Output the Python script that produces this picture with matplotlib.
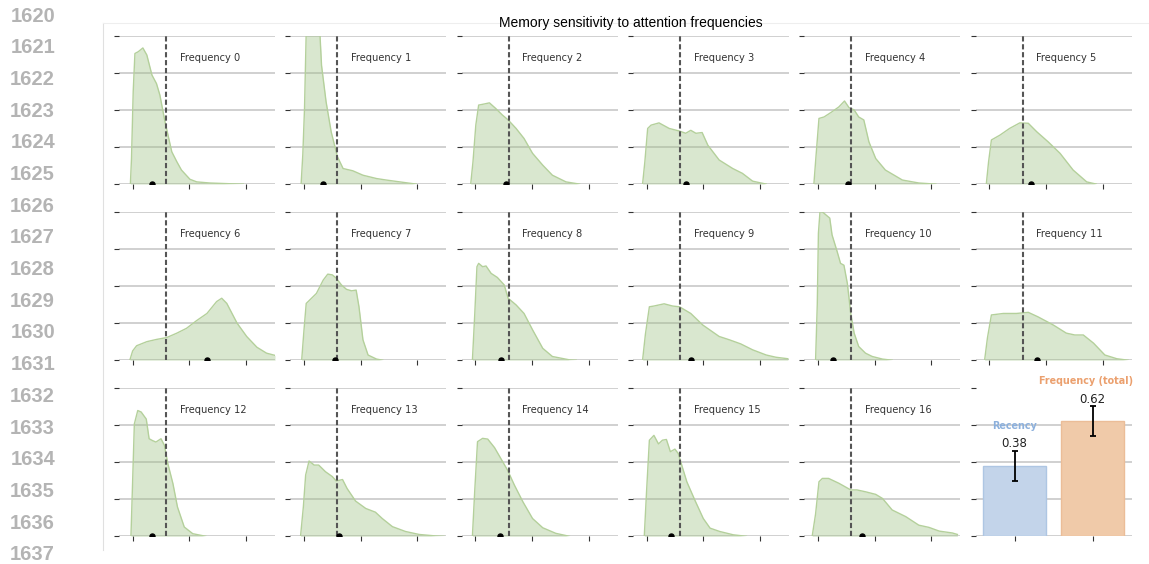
import numpy as np
import matplotlib.pyplot as plt
from matplotlib.lines import Line2D

# --- data ------------------------------------------------------------------
labels = ["Frequency %d" % i for i in range(17)]

# density curves (x, height), one list per frequency
curve_x = [
    [-0.04, -0.02, 0.01, 0.04, 0.10, 0.18, 0.25, 0.34, 0.42, 0.48, 0.57, 0.61, 0.69, 0.78, 0.86, 1.01, 1.13, 1.36, 1.72, 1.95],
    [-0.05, -0.02, 0.01, 0.04, 0.10, 0.20, 0.28, 0.31, 0.39, 0.48, 0.59, 0.69, 0.86, 1.04, 1.28, 1.45, 1.69, 1.98],
    [-0.08, -0.04, 0.01, 0.06, 0.16, 0.25, 0.36, 0.48, 0.58, 0.72, 0.86, 1.01, 1.19, 1.36, 1.60, 1.84],
    [-0.07, -0.03, 0.02, 0.08, 0.22, 0.40, 0.58, 0.69, 0.78, 0.87, 0.98, 1.08, 1.28, 1.52, 1.69, 1.87, 2.11],
    [-0.07, -0.03, 0.02, 0.11, 0.25, 0.37, 0.47, 0.55, 0.64, 0.72, 0.81, 0.90, 1.02, 1.19, 1.49, 1.78, 2.08],
    [-0.05, -0.01, 0.04, 0.19, 0.36, 0.54, 0.69, 0.84, 1.04, 1.25, 1.48, 1.72, 1.89],
    [-0.05, 0.00, 0.07, 0.25, 0.42, 0.60, 0.78, 0.95, 1.13, 1.31, 1.48, 1.57, 1.66, 1.84, 2.01, 2.19, 2.36, 2.51],
    [-0.04, 0.00, 0.04, 0.10, 0.22, 0.34, 0.42, 0.50, 0.57, 0.66, 0.75, 0.84, 0.92, 0.97, 1.04, 1.13, 1.28, 1.39],
    [-0.05, -0.01, 0.03, 0.06, 0.13, 0.19, 0.28, 0.39, 0.51, 0.58, 0.72, 0.86, 1.01, 1.19, 1.36, 1.66, 1.78],
    [-0.07, -0.02, 0.05, 0.13, 0.31, 0.46, 0.58, 0.78, 0.99, 1.28, 1.46, 1.66, 1.87, 2.11, 2.28, 2.49],
    [-0.04, -0.01, 0.01, 0.04, 0.14, 0.21, 0.25, 0.34, 0.40, 0.46, 0.52, 0.58, 0.64, 0.72, 0.84, 0.96, 1.14, 1.31],
    [-0.08, -0.03, 0.04, 0.25, 0.48, 0.69, 0.86, 1.13, 1.36, 1.51, 1.66, 1.84, 2.04, 2.25, 2.45],
    [-0.03, 0.00, 0.03, 0.09, 0.15, 0.24, 0.29, 0.35, 0.41, 0.50, 0.56, 0.62, 0.71, 0.79, 0.91, 1.06, 1.29],
    [-0.06, -0.01, 0.03, 0.09, 0.18, 0.26, 0.38, 0.50, 0.57, 0.68, 0.76, 0.91, 1.09, 1.26, 1.38, 1.56, 1.79, 2.03, 2.32, 2.47],
    [-0.05, -0.01, 0.04, 0.13, 0.22, 0.34, 0.45, 0.57, 0.69, 0.84, 1.01, 1.19, 1.42, 1.66],
    [-0.04, 0.00, 0.05, 0.13, 0.21, 0.28, 0.35, 0.42, 0.50, 0.56, 0.62, 0.71, 0.85, 1.00, 1.12, 1.29, 1.53, 1.76],
    [-0.10, -0.04, 0.02, 0.08, 0.19, 0.37, 0.58, 0.69, 0.84, 1.02, 1.14, 1.31, 1.55, 1.78, 1.96, 2.14, 2.37, 2.46],
]
curve_y = [
    [0, 0.70, 2.50, 3.52, 3.57, 3.67, 3.48, 2.94, 2.71, 2.40, 1.68, 1.41, 0.87, 0.60, 0.38, 0.13, 0.06, 0.03, 0.01, 0],
    [0, 0.80, 2.04, 4.10, 4.60, 4.60, 4.10, 3.20, 2.22, 1.41, 0.74, 0.42, 0.36, 0.24, 0.15, 0.11, 0.06, 0],
    [0, 0.60, 1.59, 2.13, 2.16, 2.19, 2.04, 1.86, 1.73, 1.50, 1.23, 0.83, 0.51, 0.24, 0.06, 0],
    [0, 0.60, 1.50, 1.59, 1.65, 1.50, 1.43, 1.37, 1.45, 1.37, 1.39, 1.05, 0.65, 0.42, 0.29, 0.08, 0],
    [0, 0.80, 1.77, 1.81, 1.95, 2.08, 2.24, 2.06, 2.00, 1.81, 1.73, 1.14, 0.69, 0.38, 0.11, 0.03, 0],
    [0, 0.60, 1.19, 1.32, 1.50, 1.65, 1.64, 1.41, 1.14, 0.83, 0.38, 0.06, 0],
    [0, 0.25, 0.39, 0.50, 0.56, 0.61, 0.73, 0.86, 1.07, 1.26, 1.58, 1.67, 1.53, 1.00, 0.64, 0.35, 0.19, 0.13],
    [0, 0.80, 1.53, 1.62, 1.80, 2.16, 2.32, 2.30, 2.21, 2.03, 1.91, 1.87, 1.89, 1.44, 0.55, 0.14, 0.03, 0],
    [0, 1.20, 2.52, 2.61, 2.52, 2.54, 2.34, 2.23, 2.03, 1.67, 1.49, 1.26, 0.82, 0.32, 0.10, 0.01, 0],
    [0, 0.70, 1.44, 1.46, 1.52, 1.46, 1.44, 1.26, 0.95, 0.64, 0.55, 0.44, 0.28, 0.14, 0.08, 0.04],
    [0, 1.50, 3.42, 4.05, 3.92, 3.83, 3.38, 2.93, 2.61, 2.56, 2.07, 1.26, 0.73, 0.37, 0.19, 0.10, 0.03, 0],
    [0, 0.60, 1.22, 1.26, 1.26, 1.29, 1.17, 0.95, 0.73, 0.68, 0.68, 0.46, 0.14, 0.04, 0],
    [0, 1.50, 3.03, 3.39, 3.35, 3.16, 2.63, 2.58, 2.54, 2.63, 2.45, 1.96, 1.42, 0.79, 0.25, 0.07, 0],
    [0, 0.80, 1.65, 2.03, 1.92, 1.92, 1.74, 1.61, 1.49, 1.53, 1.29, 0.95, 0.75, 0.65, 0.48, 0.26, 0.13, 0.05, 0.01, 0],
    [0, 1.20, 2.55, 2.64, 2.62, 2.39, 2.10, 1.78, 1.38, 0.93, 0.48, 0.23, 0.08, 0],
    [0, 1.20, 2.59, 2.72, 2.49, 2.59, 2.61, 2.28, 2.35, 2.23, 1.92, 1.47, 0.98, 0.48, 0.22, 0.13, 0.04, 0],
    [0, 0.60, 1.47, 1.56, 1.56, 1.43, 1.25, 1.25, 1.20, 1.13, 1.02, 0.71, 0.53, 0.30, 0.24, 0.14, 0.09, 0.05],
]
# black dot on each baseline
dot_x = [0.34, 0.34, 0.54, 0.69, 0.53, 0.73, 1.31, 0.54, 0.45, 0.79, 0.27, 0.85, 0.34, 0.62, 0.44, 0.43, 0.78]
ref_line = 0.59  # dashed reference

bar_names = ["Recency", "Frequency (total)"]
bar_values = [0.38, 0.62]
bar_errors = [0.08, 0.08]

line_numbers = list(range(1620, 1638))

# --- figure ----------------------------------------------------------------
fig = plt.figure(figsize=(11.49, 5.64), dpi=100)
axes = fig.subplots(3, 6)
fig.subplots_adjust(left=0.1036, right=0.9848, top=0.9367, bottom=0.0491,
                    wspace=0.098, hspace=0.1865)

grid_kw = dict(color="#c8c8c8", lw=1.2)


def style(ax):
    for s in ax.spines.values():
        s.set_visible(False)
    ax.tick_params(direction="out", length=3.5, width=0.8, colors="#333333",
                   labelleft=False, labelbottom=False)
    ax.yaxis.grid(True, **grid_kw)
    ax.set_axisbelow(True)


for i, ax in enumerate(axes.flat[:17]):
    style(ax)
    ax.set_xlim(-0.24, 2.51)
    ax.set_ylim(0, 4)
    ax.set_xticks([0, 1, 2])
    ax.set_yticks([0, 1, 2, 3, 4])
    ax.fill_between(curve_x[i], 0, curve_y[i], color="#9dc183", alpha=0.38, lw=0)
    ax.plot(curve_x[i], curve_y[i], color="#b4d09b", lw=1)
    ax.axvline(ref_line, color="#555555", lw=1.5, ls=(0, (2.5, 1.3)))
    ax.plot([dot_x[i]], [0], "o", color="black", ms=3.6)
    ax.text(0.39, 0.85, labels[i], transform=ax.transAxes, fontsize=7.1,
            color="#333333", va="center", ha="left")

# bar panel
ax = axes.flat[17]
style(ax)
pos = np.arange(len(bar_values))
ax.bar(pos, bar_values, width=0.8, color=["#c3d4ea", "#f0caa9"],
       edgecolor=["#aec6e3", "#ebbd98"], lw=1)
ax.errorbar(pos, bar_values, yerr=bar_errors, fmt="none", ecolor="black",
            elinewidth=1.3, capsize=2, capthick=1.3)
ax.set_xlim(-0.5, 1.5)
ax.set_ylim(0, 0.8)
ax.set_xticks(pos)
ax.set_yticks([0, 0.2, 0.4, 0.6, 0.8])
ax.get_ygridlines()[-1].set_visible(False)
name_colors = ["#8cb0dc", "#eba06e"]
name_shift = [0.0, -0.08]
for p, v, e, n, c, dx in zip(pos, bar_values, bar_errors, bar_names, name_colors, name_shift):
    ax.text(p, v + e + 0.005, "%.2f" % v, ha="center", va="bottom", fontsize=8.5,
            color="#222222", clip_on=False)
    ax.text(p + dx, v + e + 0.11, n, ha="center", va="bottom", fontsize=6.9,
            fontweight="bold", color=c, clip_on=False)

fig.text(631 / 1149, 1 - 22.5 / 564, "Memory sensitivity to attention frequencies",
         ha="center", va="center", fontsize=10, family="Liberation Sans")

# line numbers of the page on the left
for k, n in enumerate(line_numbers):
    fig.text(55 / 1149, 1 - (16 + 31.7 * k) / 564, str(n), ha="right", va="center",
             fontsize=14.5, fontweight="bold", color="#b4b4b4", family="Liberation Sans")

# faint frame of the pasted figure
fx = 103 / 1149
fy = 1 - 22.7 / 564
fig.add_artist(Line2D([fx, fx], [fy, 1 - 550 / 564], transform=fig.transFigure,
                      color="#e0e0e0", lw=0.8))
fig.add_artist(Line2D([fx, 1], [fy, fy], transform=fig.transFigure,
                      color="#eeeeee", lw=0.8))

fig.savefig("out.png", dpi=100)
